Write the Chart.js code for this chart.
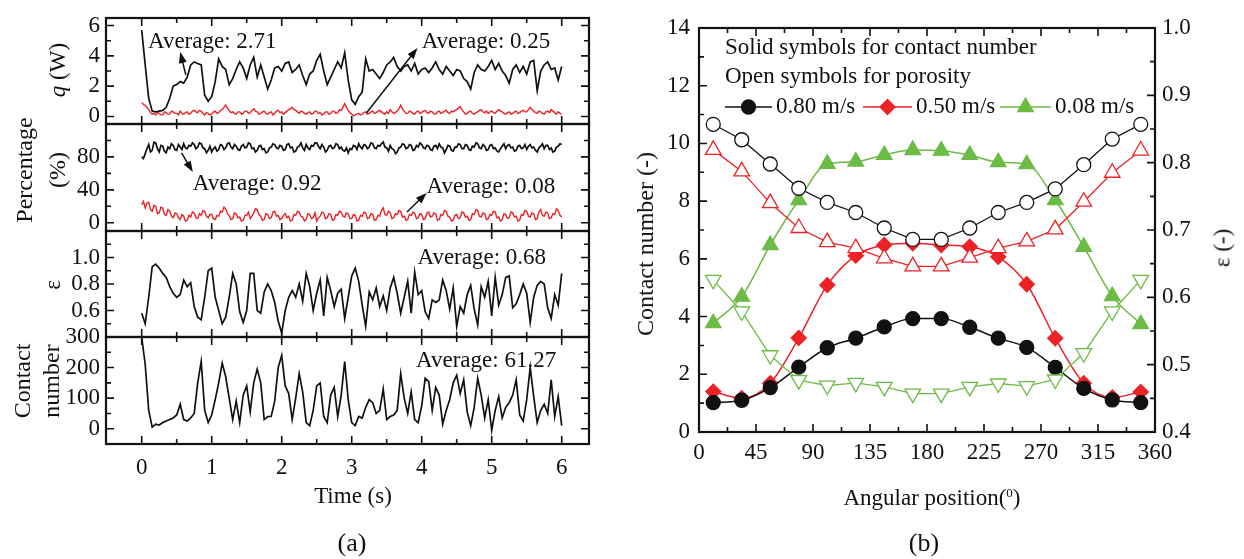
<!DOCTYPE html>
<html>
<head>
<meta charset="utf-8">
<script src="https://cdn.jsdelivr.net/npm/chart.js@4.4.1/dist/chart.umd.min.js"></script>
<style>
  body { margin: 0; background: #fff; }
  #wrap { position: relative; width: 1244px; height: 559px; overflow: hidden; font-family: "Liberation Serif", "Times New Roman", serif; color: #111; }
  canvas { position: absolute; }
  .lbl { position: absolute; font-size: 23px; white-space: nowrap; line-height: 1; text-align: center; }
  .rot { transform: translate(-50%, -50%) rotate(-90deg); }
  .ctr { transform: translate(-50%, -50%); }
</style>
</head>
<body>
<div id="wrap">
  <canvas id="cq" width="600" height="154" style="left:0;top:-6px"></canvas>
  <canvas id="cp" width="600" height="155" style="left:0;top:100px"></canvas>
  <canvas id="ce" width="600" height="154" style="left:0;top:207px"></canvas>
  <canvas id="cc" width="600" height="246" style="left:0;top:313px"></canvas>
  <canvas id="cb" width="644" height="559" style="left:600px;top:0"></canvas>

  <div class="lbl rot" style="left:57px;top:70px"><i>q</i> (W)</div>
  <div class="lbl rot" style="left:41px;top:170px;line-height:33px;font-size:24px">Percentage<br>(%)</div>
  <div class="lbl rot" style="left:52px;top:285px">ε</div>
  <div class="lbl rot" style="left:37px;top:381px;line-height:29px;font-size:24px">Contact<br>number</div>
  <div class="lbl ctr" style="left:353px;top:495px">Time (s)</div>
  <div class="lbl ctr" style="left:352px;top:543px;font-size:26px">(a)</div>

  <div class="lbl rot" style="left:645px;top:244px;font-size:24px">Contact number (-)</div>
  <div class="lbl rot" style="left:1222px;top:248px">ε (-)</div>
  <div class="lbl ctr" style="left:932px;top:497px">Angular position(<span style="font-size:13px;vertical-align:8px">0</span>)</div>
  <div class="lbl ctr" style="left:924px;top:543px;font-size:26px">(b)</div>
</div>
<script>
// ---- panel (a): time series ----
// coarse grid (0.05 s) for the slower signals
const time = [
  0, 0.05, 0.1, 0.15, 0.2, 0.25, 0.3, 0.35, 0.4, 0.45,
  0.5, 0.55, 0.6, 0.65, 0.7, 0.75, 0.8, 0.85, 0.9, 0.95,
  1, 1.05, 1.1, 1.15, 1.2, 1.25, 1.3, 1.35, 1.4, 1.45,
  1.5, 1.55, 1.6, 1.65, 1.7, 1.75, 1.8, 1.85, 1.9, 1.95,
  2, 2.05, 2.1, 2.15, 2.2, 2.25, 2.3, 2.35, 2.4, 2.45,
  2.5, 2.55, 2.6, 2.65, 2.7, 2.75, 2.8, 2.85, 2.9, 2.95,
  3, 3.05, 3.1, 3.15, 3.2, 3.25, 3.3, 3.35, 3.4, 3.45,
  3.5, 3.55, 3.6, 3.65, 3.7, 3.75, 3.8, 3.85, 3.9, 3.95,
  4, 4.05, 4.1, 4.15, 4.2, 4.25, 4.3, 4.35, 4.4, 4.45,
  4.5, 4.55, 4.6, 4.65, 4.7, 4.75, 4.8, 4.85, 4.9, 4.95,
  5, 5.05, 5.1, 5.15, 5.2, 5.25, 5.3, 5.35, 5.4, 5.45,
  5.5, 5.55, 5.6, 5.65, 5.7, 5.75, 5.8, 5.85, 5.9, 5.95,
  6
];
// fine grid (0.025 s) for the noisy signals
const timeFine = [
  0, 0.025, 0.05, 0.075, 0.1, 0.125, 0.15, 0.175, 0.2, 0.225, 0.25, 0.275, 0.3, 0.325, 0.35, 0.375, 0.4, 0.425, 0.45, 0.475,
  0.5, 0.525, 0.55, 0.575, 0.6, 0.625, 0.65, 0.675, 0.7, 0.725, 0.75, 0.775, 0.8, 0.825, 0.85, 0.875, 0.9, 0.925, 0.95, 0.975,
  1, 1.025, 1.05, 1.075, 1.1, 1.125, 1.15, 1.175, 1.2, 1.225, 1.25, 1.275, 1.3, 1.325, 1.35, 1.375, 1.4, 1.425, 1.45, 1.475,
  1.5, 1.525, 1.55, 1.575, 1.6, 1.625, 1.65, 1.675, 1.7, 1.725, 1.75, 1.775, 1.8, 1.825, 1.85, 1.875, 1.9, 1.925, 1.95, 1.975,
  2, 2.025, 2.05, 2.075, 2.1, 2.125, 2.15, 2.175, 2.2, 2.225, 2.25, 2.275, 2.3, 2.325, 2.35, 2.375, 2.4, 2.425, 2.45, 2.475,
  2.5, 2.525, 2.55, 2.575, 2.6, 2.625, 2.65, 2.675, 2.7, 2.725, 2.75, 2.775, 2.8, 2.825, 2.85, 2.875, 2.9, 2.925, 2.95, 2.975,
  3, 3.025, 3.05, 3.075, 3.1, 3.125, 3.15, 3.175, 3.2, 3.225, 3.25, 3.275, 3.3, 3.325, 3.35, 3.375, 3.4, 3.425, 3.45, 3.475,
  3.5, 3.525, 3.55, 3.575, 3.6, 3.625, 3.65, 3.675, 3.7, 3.725, 3.75, 3.775, 3.8, 3.825, 3.85, 3.875, 3.9, 3.925, 3.95, 3.975,
  4, 4.025, 4.05, 4.075, 4.1, 4.125, 4.15, 4.175, 4.2, 4.225, 4.25, 4.275, 4.3, 4.325, 4.35, 4.375, 4.4, 4.425, 4.45, 4.475,
  4.5, 4.525, 4.55, 4.575, 4.6, 4.625, 4.65, 4.675, 4.7, 4.725, 4.75, 4.775, 4.8, 4.825, 4.85, 4.875, 4.9, 4.925, 4.95, 4.975,
  5, 5.025, 5.05, 5.075, 5.1, 5.125, 5.15, 5.175, 5.2, 5.225, 5.25, 5.275, 5.3, 5.325, 5.35, 5.375, 5.4, 5.425, 5.45, 5.475,
  5.5, 5.525, 5.55, 5.575, 5.6, 5.625, 5.65, 5.675, 5.7, 5.725, 5.75, 5.775, 5.8, 5.825, 5.85, 5.875, 5.9, 5.925, 5.95, 5.975,
  6
];

const qTotal = [
  5.7, 3.4, 1.2, 0.35, 0.3, 0.35, 0.4, 0.6, 1.2, 2.0,
  2.1, 2.3, 2.2, 2.6, 3.4, 3.6, 3.5, 3.4, 1.4, 1.0,
  1.3, 2.3, 3.8, 3.3, 3.1, 2.1, 2.5, 3.1, 3.6, 3.2,
  2.5, 3.4, 3.9, 2.6, 3.4, 2.6, 1.8, 2.4, 3.2, 3.3,
  3.0, 3.5, 3.6, 2.9, 3.1, 3.4, 2.7, 2.1, 2.8, 3.0,
  3.7, 4.1, 3.0, 2.1, 2.6, 3.1, 3.6, 3.2, 4.2, 2.4,
  1.1, 0.8, 1.3, 1.6, 3.8, 3.0, 3.1, 2.8, 2.5, 2.9,
  3.4, 3.6, 3.9, 3.3, 3.0, 3.3, 3.4, 3.0, 3.5, 2.8,
  3.1, 3.2, 2.9, 3.2, 3.6, 3.1, 2.8, 3.3, 3.0, 2.7,
  3.1, 3.0, 2.5, 2.3, 1.8, 2.9, 3.4, 3.1, 3.0, 3.3,
  3.7, 3.1, 3.5, 3.0, 2.7, 2.2, 3.1, 3.4, 2.9, 3.3,
  2.8, 3.6, 3.7, 1.7, 3.0, 3.4, 3.6, 3.1, 3.2, 2.4,
  3.3
];
const qPart = [
  0.9, 0.8, 0.7, 0.6, 0.45, 0.25, 0.15, 0.2, 0.1, 0.25, 0.2, 0.1, 0.1, 0.3, 0.25, 0.15, 0.15, 0.35, 0.3, 0.2,
  0.2, 0.1, 0.35, 0.2, 0.15, 0.25, 0.3, 0.15, 0.2, 0.35, 0.4, 0.3, 0.25, 0.4, 0.35, 0.2, 0.1, 0.25, 0.2, 0.1,
  0.15, 0.3, 0.35, 0.2, 0.25, 0.4, 0.45, 0.6, 0.75, 0.55, 0.4, 0.25, 0.3, 0.2, 0.15, 0.3, 0.3, 0.15, 0.2, 0.35,
  0.35, 0.2, 0.25, 0.4, 0.5, 0.35, 0.3, 0.15, 0.2, 0.3, 0.35, 0.2, 0.15, 0.25, 0.3, 0.1, 0.2, 0.35, 0.4, 0.25,
  0.3, 0.15, 0.25, 0.35, 0.45, 0.5, 0.6, 0.45, 0.4, 0.3, 0.2, 0.35, 0.3, 0.2, 0.15, 0.25, 0.3, 0.15, 0.2, 0.35,
  0.35, 0.2, 0.25, 0.1, 0.15, 0.3, 0.3, 0.15, 0.2, 0.35, 0.35, 0.2, 0.25, 0.45, 0.4, 0.6, 0.85, 0.6, 0.4, 0.25,
  0.15, 0.05, 0.1, 0.15, 0.2, 0.1, 0.15, 0.25, 0.3, 0.15, 0.2, 0.3, 0.35, 0.2, 0.25, 0.35, 0.4, 0.3, 0.2, 0.15,
  0.3, 0.2, 0.45, 0.3, 0.2, 0.25, 0.35, 0.5, 0.75, 0.5, 0.35, 0.2, 0.2, 0.35, 0.3, 0.2, 0.15, 0.3, 0.35, 0.2,
  0.25, 0.35, 0.4, 0.25, 0.2, 0.35, 0.3, 0.15, 0.15, 0.3, 0.35, 0.2, 0.25, 0.35, 0.4, 0.25, 0.2, 0.35, 0.3, 0.4,
  0.45, 0.55, 0.65, 0.45, 0.3, 0.15, 0.2, 0.3, 0.35, 0.2, 0.15, 0.25, 0.3, 0.4, 0.45, 0.3, 0.25, 0.35, 0.2, 0.3,
  0.35, 0.25, 0.2, 0.35, 0.45, 0.35, 0.3, 0.2, 0.15, 0.25, 0.3, 0.15, 0.2, 0.3, 0.35, 0.2, 0.25, 0.35, 0.4, 0.3,
  0.3, 0.45, 0.6, 0.45, 0.35, 0.25, 0.2, 0.35, 0.3, 0.2, 0.15, 0.3, 0.35, 0.25, 0.45, 0.35, 0.25, 0.15, 0.3, 0.2,
  0.15
];
const pctHigh = [
  80, 78, 84, 90, 95, 86, 88, 98, 97, 90, 86, 94, 93, 87, 85, 92, 90, 96, 94, 89,
  88, 95, 92, 89, 96, 91, 90, 94, 93, 97, 95, 90, 92, 97, 96, 91, 90, 85, 88, 93,
  86, 90, 92, 87, 89, 95, 94, 89, 91, 96, 97, 92, 90, 95, 93, 89, 88, 93, 95, 91,
  92, 97, 96, 90, 91, 86, 88, 93, 94, 89, 90, 85, 86, 91, 92, 96, 95, 91, 90, 94,
  93, 88, 89, 95, 96, 91, 92, 86, 87, 92, 93, 97, 91, 88, 95, 91, 89, 94, 93, 97,
  97, 93, 90, 95, 92, 86, 88, 93, 94, 90, 91, 96, 95, 90, 92, 88, 87, 91, 85, 90,
  89, 94, 93, 89, 96, 92, 90, 95, 94, 90, 92, 97, 96, 91, 90, 94, 93, 96, 98, 92,
  91, 87, 94, 90, 89, 84, 86, 91, 92, 96, 95, 90, 91, 95, 94, 88, 89, 94, 92, 97,
  95, 91, 90, 94, 93, 89, 88, 93, 94, 90, 96, 92, 91, 85, 89, 94, 93, 88, 87, 92,
  92, 96, 95, 90, 90, 95, 94, 89, 88, 93, 92, 97, 96, 91, 90, 95, 93, 88, 89, 94,
  95, 90, 91, 87, 86, 90, 93, 96, 90, 94, 95, 91, 92, 87, 88, 93, 94, 90, 91, 95,
  89, 93, 95, 91, 92, 88, 86, 91, 93, 96, 90, 94, 94, 89, 91, 86, 87, 92, 93, 96,
  95
];
const pctLow = [
  22, 26, 18, 24, 25, 16, 14, 21, 20, 11, 12, 19, 18, 10, 9, 16, 14, 8, 6, 12,
  11, 6, 4, 10, 8, 2, 3, 9, 7, 13, 12, 6, 5, 11, 9, 15, 14, 8, 6, 10,
  10, 5, 4, 9, 8, 14, 13, 19, 17, 11, 9, 4, 5, 12, 11, 6, 7, 2, 3, 9,
  9, 13, 5, 8, 12, 17, 16, 10, 8, 3, 4, 11, 10, 5, 6, 13, 14, 8, 9, 4,
  5, 9, 11, 6, 8, 2, 3, 10, 9, 14, 13, 8, 7, 2, 4, 11, 10, 5, 6, 12,
  2, 6, 8, 13, 12, 5, 6, 11, 10, 3, 4, 10, 9, 14, 13, 8, 7, 12, 11, 5,
  5, 10, 9, 2, 3, 9, 8, 13, 12, 5, 6, 11, 10, 3, 4, 9, 8, 15, 18, 10,
  9, 14, 12, 5, 6, 11, 10, 15, 14, 7, 8, 3, 4, 10, 9, 13, 12, 5, 6, 11,
  10, 4, 5, 12, 13, 7, 8, 12, 11, 3, 4, 10, 9, 15, 14, 8, 7, 2, 3, 9,
  10, 5, 6, 13, 12, 7, 8, 3, 4, 11, 10, 16, 15, 8, 7, 12, 11, 4, 5, 10,
  9, 14, 13, 6, 7, 2, 4, 11, 10, 5, 6, 13, 12, 7, 8, 2, 3, 10, 9, 15,
  14, 8, 7, 12, 11, 4, 5, 13, 16, 9, 8, 13, 12, 5, 6, 11, 10, 17, 15, 9,
  7
];
const eps = [
  0.58, 0.50, 0.70, 0.93, 0.95, 0.92, 0.88, 0.85, 0.78, 0.73,
  0.70, 0.72, 0.83, 0.78, 0.81, 0.63, 0.55, 0.53, 0.70, 0.90,
  0.92, 0.70, 0.60, 0.50, 0.55, 0.70, 0.88, 0.80, 0.59, 0.51,
  0.60, 0.88, 0.88, 0.60, 0.58, 0.74, 0.80, 0.75, 0.66, 0.52,
  0.43, 0.60, 0.70, 0.75, 0.70, 0.80, 0.67, 0.88, 0.78, 0.60,
  0.73, 0.83, 0.56, 0.85, 0.75, 0.63, 0.73, 0.76, 0.54, 0.70,
  0.86, 0.92, 0.82, 0.64, 0.48, 0.74, 0.68, 0.77, 0.63, 0.71,
  0.60, 0.77, 0.85, 0.73, 0.58, 0.70, 0.82, 0.58, 0.89, 0.72,
  0.75, 0.59, 0.54, 0.68, 0.66, 0.68, 0.83, 0.75, 0.61, 0.77,
  0.48, 0.63, 0.58, 0.72, 0.79, 0.61, 0.49, 0.78, 0.70, 0.82,
  0.56, 0.85, 0.64, 0.72, 0.85, 0.86, 0.62, 0.65, 0.72, 0.80,
  0.73, 0.51, 0.70, 0.79, 0.82, 0.80, 0.62, 0.54, 0.72, 0.64,
  0.88
];
const contacts = [
  300, 210, 60, 5, 15, 12, 20, 25, 30, 35,
  45, 80, 30, 25, 35, 50, 150, 220, 60, 20,
  45, 95, 150, 215, 170, 100, 30, 90, 20, 110,
  140, 55, 150, 195, 150, 30, 40, 40, 90, 200,
  240, 140, 115, 30, 100, 180, 120, 20, 10, 60,
  140, 150, 40, 20, 110, 135, 40, 110, 220, 95,
  20, 10, 40, 35, 70, 95, 85, 50, 60, 130,
  30, 40, 45, 60, 180, 100, 50, 120, 30, 20,
  75, 165, 155, 60, 135, 110, 15, 60, 95, 150,
  175, 115, 160, 55, 10, 70, 165, 110, 35, 95,
  -5, 60, 105, 35, 70, 85, 110, 160, 45, 25,
  95, 200, 105, 20, 60, 80, 50, 160, 40, 105,
  10
];

const timeTicks = [0, 1, 2, 3, 4, 5, 6];
const qTicks = [0, 2, 4, 6];
const pctTicks = [0, 40, 80];
const epsTicks = [0.6, 0.8, 1.0];
const cnTicks = [0, 100, 200, 300];

// ---- panel (b): angular profiles ----
const angle = [11.25, 33.75, 56.25, 78.75, 101.25, 123.75, 146.25, 168.75, 191.25, 213.75, 236.25, 258.75, 281.25, 303.75, 326.25, 348.75];
const cn080 = [1.02, 1.10, 1.54, 2.25, 2.92, 3.25, 3.64, 3.93, 3.93, 3.63, 3.25, 2.93, 2.24, 1.51, 1.11, 1.02];
const cn050 = [1.40, 1.17, 1.69, 3.26, 5.09, 6.11, 6.48, 6.54, 6.48, 6.42, 6.07, 5.12, 3.25, 1.69, 1.20, 1.39];
const cn008 = [3.77, 4.69, 6.48, 8.04, 9.29, 9.37, 9.60, 9.77, 9.75, 9.60, 9.35, 9.28, 8.04, 6.42, 4.71, 3.74];
const por080 = [0.857, 0.834, 0.798, 0.762, 0.741, 0.726, 0.703, 0.686, 0.686, 0.703, 0.726, 0.741, 0.761, 0.797, 0.835, 0.857];
const por050 = [0.819, 0.787, 0.740, 0.703, 0.682, 0.673, 0.658, 0.646, 0.646, 0.659, 0.673, 0.683, 0.701, 0.742, 0.785, 0.818];
const por008 = [0.626, 0.579, 0.514, 0.477, 0.469, 0.473, 0.467, 0.457, 0.457, 0.467, 0.472, 0.468, 0.478, 0.517, 0.579, 0.626];

const angleTicks = [0, 45, 90, 135, 180, 225, 270, 315, 360];
const contactTicks = [0, 2, 4, 6, 8, 10, 12, 14];
const porTicks = [0.4, 0.5, 0.6, 0.7, 0.8, 0.9, 1.0];

const BLACK = '#111111';
const RED = '#ec2227';
const GREEN = '#6cbb45';
const FONT = '"Liberation Serif", "Times New Roman", serif';

Chart.defaults.font.family = FONT;
Chart.defaults.font.size = 23;
Chart.defaults.color = BLACK;

const fixWidth = w => scale => { scale.width = w; };
const fixHeight = h => scale => { scale.height = h; };
const useTicks = vals => scale => { scale.ticks = vals.map(v => ({ value: v })); };

// major ticks long, half-step minors short, all pointing into the frame
const marks = (major, min, max) => {
  const step = major[1] - major[0];
  const out = major.map(v => [v, 8]);
  for (let v = major[0] - step / 2; v <= major[major.length - 1] + step / 2 + 1e-9; v += step) {
    if (v > min + 0.02 * step && v < max - 0.02 * step) out.push([v, 5]);
  }
  return out;
};

const inTicks = {
  id: 'inTicks',
  afterDatasetsDraw(chart, args, o) {
    const { ctx, chartArea: a, scales } = chart;
    ctx.save();
    ctx.strokeStyle = BLACK;
    ctx.lineWidth = 1.6;
    ctx.beginPath();
    const seg = (x1, y1, x2, y2) => { ctx.moveTo(x1, y1); ctx.lineTo(x2, y2); };
    (o.x || []).forEach(([v, len]) => {
      const px = scales.x.getPixelForValue(v);
      seg(px, a.bottom, px, a.bottom - len);
      seg(px, a.top, px, a.top + len);
    });
    (o.y || []).forEach(([v, len]) => {
      const py = scales.y.getPixelForValue(v);
      seg(a.left, py, a.left + len, py);
      if (!o.y2) seg(a.right, py, a.right - len, py);
    });
    (o.y2 || []).forEach(([v, len]) => {
      const py = scales.y2.getPixelForValue(v);
      seg(a.right, py, a.right - len, py);
    });
    ctx.stroke();
    ctx.lineWidth = 2.2;
    ctx.strokeRect(a.left, a.top, a.right - a.left, a.bottom - a.top);
    ctx.restore();
  }
};

const notes = {
  id: 'notes',
  afterDatasetsDraw(chart, args, o) {
    const { ctx, scales: { x, y } } = chart;
    (o.items || []).forEach(n => {
      ctx.save();
      ctx.font = '23px ' + FONT;
      ctx.fillStyle = BLACK;
      ctx.textBaseline = 'middle';
      ctx.fillText(n.text, x.getPixelForValue(n.at[0]), y.getPixelForValue(n.at[1]));
      if (n.from) {
        const x1 = x.getPixelForValue(n.from[0]), y1 = y.getPixelForValue(n.from[1]);
        const x2 = x.getPixelForValue(n.to[0]), y2 = y.getPixelForValue(n.to[1]);
        const ang = Math.atan2(y2 - y1, x2 - x1);
        ctx.strokeStyle = BLACK;
        ctx.lineWidth = 1.5;
        ctx.beginPath();
        ctx.moveTo(x1, y1);
        ctx.lineTo(x2 - 8 * Math.cos(ang), y2 - 8 * Math.sin(ang));
        ctx.stroke();
        ctx.beginPath();
        ctx.moveTo(x2, y2);
        ctx.lineTo(x2 - 11 * Math.cos(ang) + 4 * Math.sin(ang), y2 - 11 * Math.sin(ang) - 4 * Math.cos(ang));
        ctx.lineTo(x2 - 11 * Math.cos(ang) - 4 * Math.sin(ang), y2 - 11 * Math.sin(ang) + 4 * Math.cos(ang));
        ctx.closePath();
        ctx.fill();
      }
      ctx.restore();
    });
  }
};

const T_MIN = -0.51, T_MAX = 6.39;

function strip(id, cfg) {
  return new Chart(document.getElementById(id), {
    type: 'line',
    data: {
      datasets: cfg.series.map(s => ({
        data: (s.t || time).map((t, i) => ({ x: t, y: s.values[i] })),
        borderColor: s.color,
        borderWidth: s.color === RED ? 1.4 : 1.7,
        pointRadius: 0,
        tension: 0
      }))
    },
    options: {
      responsive: false,
      animation: false,
      events: [],
      layout: { padding: { top: 24, bottom: cfg.padBottom, left: 0, right: 11 } },
      plugins: {
        legend: { display: false },
        tooltip: { enabled: false },
        inTicks: { x: marks(timeTicks, T_MIN, T_MAX), y: marks(cfg.ticks, cfg.min, cfg.max) },
        notes: { items: cfg.notes || [] }
      },
      scales: {
        x: {
          type: 'linear', min: T_MIN, max: T_MAX,
          display: !!cfg.showX,
          grid: { display: false, drawTicks: false },
          border: { display: false },
          ticks: { padding: 10, autoSkip: false, maxRotation: 0 },
          afterBuildTicks: useTicks(timeTicks),
          afterFit: cfg.showX ? fixHeight(cfg.xHeight) : undefined
        },
        y: {
          min: cfg.min, max: cfg.max,
          grid: { display: false, drawTicks: false },
          border: { display: false },
          ticks: { padding: 6, autoSkip: false, callback: cfg.fmt || (v => String(v)) },
          afterBuildTicks: useTicks(cfg.ticks),
          afterFit: fixWidth(106)
        }
      }
    },
    plugins: [inTicks, notes]
  });
}

strip('cq', {
  series: [{ values: qTotal, color: BLACK }, { values: qPart, t: timeFine, color: RED }],
  min: -0.5, max: 6.5, ticks: qTicks, padBottom: 24,
  notes: [
    { text: 'Average: 2.71', at: [0.09, 4.9], from: [0.63, 2.74], to: [0.55, 4.25] },
    { text: 'Average: 0.25', at: [4.0, 4.9], from: [3.21, 0.23], to: [3.94, 4.52] }
  ]
});
strip('cp', {
  series: [{ values: pctHigh, t: timeFine, color: BLACK }, { values: pctLow, t: timeFine, color: RED }],
  min: -10, max: 120, ticks: pctTicks, padBottom: 24,
  notes: [
    { text: 'Average: 0.92', at: [0.73, 47], from: [0.57, 84.8], to: [0.73, 61.7] },
    { text: 'Average: 0.08', at: [4.07, 43.4], from: [3.79, 13.1], to: [4.07, 36.2] }
  ]
});
strip('ce', {
  series: [{ values: eps, color: BLACK }],
  min: 0.4, max: 1.2, ticks: epsTicks, padBottom: 24,
  fmt: v => v.toFixed(1),
  notes: [{ text: 'Average: 0.68', at: [3.94, 0.996] }]
});
strip('cc', {
  series: [{ values: contacts, color: BLACK }],
  min: -50, max: 300, ticks: cnTicks, padBottom: 0,
  showX: true, xHeight: 115,
  notes: [{ text: 'Average: 61.27', at: [3.92, 221.6] }]
});

// ---- panel (b) ----
const keyBox = {
  id: 'keyBox',
  afterDraw(chart, args, o) {
    const { ctx, chartArea: a } = chart;
    ctx.save();
    ctx.font = '23px ' + FONT;
    ctx.textBaseline = 'middle';
    ctx.fillStyle = BLACK;
    o.lines.forEach((t, i) => ctx.fillText(t, a.left + 26, a.top + 20 + i * 29));
    const y = a.top + 79;
    o.items.forEach(it => {
      const ds = chart.data.datasets[it.ds];
      ctx.strokeStyle = ds.borderColor;
      ctx.lineWidth = 1.5;
      ctx.beginPath();
      ctx.moveTo(a.left + it.from, y);
      ctx.lineTo(a.left + it.to, y);
      ctx.stroke();
      ctx.fillStyle = ds.pointBackgroundColor;
      ctx.strokeStyle = ds.pointBorderColor;
      ctx.lineWidth = ds.pointBorderWidth;
      if (Chart.helpers && Chart.helpers.drawPoint) {
        Chart.helpers.drawPoint(ctx, {
          pointStyle: ds.pointStyle, rotation: ds.pointRotation || 0,
          radius: ds.pointRadius, borderWidth: ds.pointBorderWidth
        }, a.left + (it.from + it.to) / 2, y);
      }
      ctx.fillStyle = BLACK;
      ctx.fillText(ds.label, a.left + it.to + 4, y);
    });
    ctx.restore();
  }
};

const pts = vals => angle.map((a, i) => ({ x: a, y: vals[i] }));

function solid(label, vals, color, style, r) {
  return {
    label, data: pts(vals), yAxisID: 'y',
    borderColor: color, borderWidth: 1.5,
    pointStyle: style, pointRadius: r, pointBackgroundColor: color,
    pointBorderColor: color, pointBorderWidth: 1.3,
    cubicInterpolationMode: 'monotone'
  };
}
function open(label, vals, color, style, r, rot) {
  return {
    label, data: pts(vals), yAxisID: 'y2',
    borderColor: color, borderWidth: 1.3,
    pointStyle: style, pointRadius: r, pointRotation: rot || 0,
    pointBackgroundColor: '#ffffff', pointBorderColor: color, pointBorderWidth: 1.3,
    tension: 0
  };
}

new Chart(document.getElementById('cb'), {
  type: 'line',
  data: {
    datasets: [
      open('0.80 m/s', por080, BLACK, 'circle', 7),
      open('0.50 m/s', por050, RED, 'triangle', 9),
      open('0.08 m/s', por008, GREEN, 'triangle', 9, 180),
      solid('0.80 m/s', cn080, BLACK, 'circle', 7),
      solid('0.50 m/s', cn050, RED, 'rectRot', 7.5),
      solid('0.08 m/s', cn008, GREEN, 'triangle', 9)
    ]
  },
  options: {
    responsive: false,
    animation: false,
    events: [],
    clip: false,
    layout: { padding: { top: 28, left: 0, right: 0, bottom: 0 } },
    plugins: {
      legend: { display: false },
      tooltip: { enabled: false },
      inTicks: {
        x: marks(angleTicks, 0, 360),
        y: marks(contactTicks, 0, 14),
        y2: marks(porTicks, 0.4, 1.0)
      },
      keyBox: {
        lines: ['Solid symbols for contact number', 'Open symbols for porosity'],
        items: [{ ds: 3, from: 26, to: 73 }, { ds: 4, from: 164, to: 213 }, { ds: 5, from: 301, to: 352 }]
      }
    },
    scales: {
      x: {
        type: 'linear', min: 0, max: 360,
        grid: { display: false, drawTicks: false },
        border: { display: false },
        ticks: { padding: 7, autoSkip: false, maxRotation: 0 },
        afterBuildTicks: useTicks(angleTicks),
        afterFit: fixHeight(127)
      },
      y: {
        position: 'left', min: 0, max: 14,
        grid: { display: false, drawTicks: false },
        border: { display: false },
        ticks: { padding: 9, autoSkip: false },
        afterBuildTicks: useTicks(contactTicks),
        afterFit: fixWidth(99)
      },
      y2: {
        position: 'right', min: 0.4, max: 1.0,
        grid: { display: false, drawTicks: false },
        border: { display: false },
        ticks: { padding: 7, autoSkip: false, callback: v => v.toFixed(1) },
        afterBuildTicks: useTicks(porTicks),
        afterFit: fixWidth(89)
      }
    }
  },
  plugins: [inTicks, keyBox]
});
</script>
</body>
</html>
